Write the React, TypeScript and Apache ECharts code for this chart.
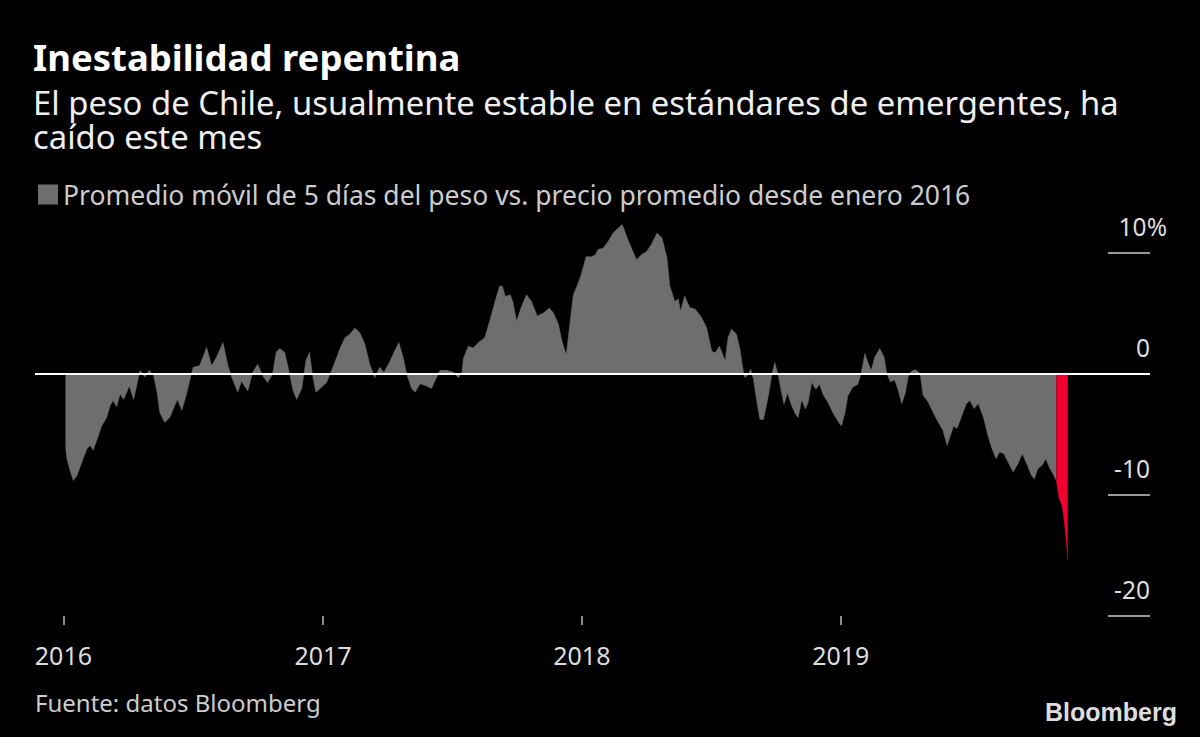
import React, { useEffect, useRef } from "react";
import * as echarts from "echarts";

const FONT = "'Noto Sans', sans-serif";

const legendName = "Promedio móvil de 5 días del peso vs. precio promedio desde enero 2016";

const dates2016 = ["2016-01-04","2016-01-06","2016-01-11","2016-01-15","2016-01-20","2016-01-27","2016-02-03","2016-02-08","2016-02-12","2016-02-17","2016-02-24","2016-03-02","2016-03-07","2016-03-11","2016-03-16","2016-03-21","2016-03-26","2016-04-03","2016-04-09","2016-04-14","2016-04-18","2016-04-25","2016-05-01","2016-05-07","2016-05-12","2016-05-16","2016-05-23","2016-05-30","2016-06-06","2016-06-10","2016-06-16","2016-06-22","2016-06-29","2016-07-02","2016-07-11","2016-07-21","2016-07-28","2016-08-04","2016-08-13","2016-08-20","2016-08-25","2016-09-03","2016-09-08","2016-09-17","2016-09-24","2016-10-01","2016-10-08","2016-10-15","2016-10-22","2016-10-27","2016-11-01","2016-11-08","2016-11-15","2016-11-20","2016-11-25","2016-12-02","2016-12-08","2016-12-13","2016-12-17","2016-12-22","2016-12-28"];
const values2016 = [-6.0,-7.0,-8.1,-8.8,-8.4,-7.3,-6.2,-5.9,-6.3,-5.5,-4.3,-3.6,-2.6,-2.2,-2.7,-1.65,-2.1,-1.0,-2.1,-0.8,0.3,-0.25,0.3,-0.1,-1.5,-3.2,-4.0,-3.6,-2.6,-2.1,-3.0,-1.8,-0.1,0.55,0.7,2.2,0.7,1.4,2.6,0.7,-0.2,-1.5,-0.6,-1.4,0.15,0.8,-0.15,-0.7,0,1.8,2.1,1.8,0,-1.4,-2.1,-1.2,1.1,1.8,0,-1.5,-1.2];

const dates2017 = ["2017-01-06","2017-01-16","2017-01-25","2017-02-01","2017-02-08","2017-02-15","2017-02-22","2017-03-01","2017-03-08","2017-03-15","2017-03-22","2017-03-28","2017-04-05","2017-04-12","2017-04-18","2017-04-24","2017-04-29","2017-05-06","2017-05-11","2017-05-18","2017-05-27","2017-06-03","2017-06-10","2017-06-15","2017-06-24","2017-07-04","2017-07-11","2017-07-16","2017-07-18","2017-07-25","2017-08-01","2017-08-08","2017-08-17","2017-08-24","2017-09-01","2017-09-07","2017-09-11","2017-09-15","2017-09-22","2017-09-26","2017-10-01","2017-10-08","2017-10-15","2017-10-22","2017-10-30","2017-11-08","2017-11-16","2017-11-22","2017-11-29","2017-12-04","2017-12-10","2017-12-15","2017-12-20","2017-12-25","2017-12-31"];
const values2017 = [-0.7,0.7,2.1,3.0,3.3,3.8,3.4,2.5,0.8,-0.3,0.55,0.15,1.0,1.9,2.6,1.4,0,-1.2,-1.5,-0.8,-1.0,-1.2,-0.3,0.3,0.3,0.15,-0.3,0.15,1.3,2.3,2.15,2.6,3.0,4.35,6.1,7.25,7.25,6.4,6.55,5.9,4.35,5.6,6.55,6.0,4.8,5.05,5.45,5.05,4.1,2.7,1.6,4.1,6.55,7.25,8.2];

const dates2018 = ["2018-01-07","2018-01-15","2018-01-20","2018-01-24","2018-01-31","2018-02-07","2018-02-14","2018-02-21","2018-02-27","2018-03-05","2018-03-12","2018-03-19","2018-03-26","2018-04-02","2018-04-09","2018-04-17","2018-04-24","2018-05-01","2018-05-05","2018-05-12","2018-05-17","2018-05-20","2018-05-26","2018-06-02","2018-06-10","2018-06-19","2018-06-26","2018-07-03","2018-07-08","2018-07-14","2018-07-22","2018-07-26","2018-07-31","2018-08-07","2018-08-12","2018-08-17","2018-08-19","2018-08-24","2018-08-27","2018-08-31","2018-09-05","2018-09-09","2018-09-14","2018-09-21","2018-09-26","2018-09-30","2018-10-05","2018-10-10","2018-10-13","2018-10-18","2018-10-23","2018-10-29","2018-11-02","2018-11-07","2018-11-12","2018-11-16","2018-11-21","2018-11-27","2018-12-02","2018-12-07","2018-12-14","2018-12-21","2018-12-28"];
const values2018 = [9.7,9.7,9.85,10.3,10.4,10.95,11.65,12.05,12.35,11.4,10.4,9.45,9.85,10.1,10.7,11.65,11.25,9.6,7.3,6.0,6.2,5.2,6.45,5.5,5.35,4.65,3.8,1.9,1.75,2.3,1.1,3.0,3.7,3.3,2.0,0.1,-0.3,0,0.4,-0.45,-2.4,-3.75,-3.75,-1.8,0,0.95,-0.15,-1.7,-2.5,-1.55,-2.5,-3.3,-3.6,-2.1,-2.9,-2.35,-0.7,-1.25,-0.85,-1.7,-2.35,-3.2,-3.9];

const dates2019 = ["2019-01-02","2019-01-07","2019-01-11","2019-01-18","2019-01-25","2019-01-30","2019-02-04","2019-02-08","2019-02-13","2019-02-18","2019-02-25","2019-03-03","2019-03-07","2019-03-12","2019-03-18","2019-03-23","2019-03-28","2019-04-02","2019-04-06","2019-04-11","2019-04-17","2019-04-23","2019-04-27","2019-05-04","2019-05-11","2019-05-18","2019-05-25","2019-05-31","2019-06-04","2019-06-09","2019-06-14","2019-06-21","2019-06-27","2019-07-02","2019-07-08","2019-07-14","2019-07-21","2019-07-28","2019-08-03","2019-08-08","2019-08-13","2019-08-19","2019-08-25","2019-09-01","2019-09-08","2019-09-14","2019-09-20","2019-09-27","2019-10-01","2019-10-06","2019-10-12","2019-10-17","2019-10-22","2019-10-27","2019-11-01"];
const values2019 = [-4.3,-3.2,-1.8,-1.1,-0.85,0.1,1.7,1.0,0.3,1.4,2.1,1.4,0,-0.65,-0.5,-1.35,-2.45,-1.6,-0.25,0.25,0.35,0,-1.75,-2.3,-3.15,-3.95,-4.65,-5.9,-5.2,-4.3,-4.5,-3.4,-2.45,-2.2,-2.85,-2.45,-3.55,-5.2,-6.3,-7.0,-6.45,-6.6,-7.3,-8.1,-7.4,-6.6,-7.4,-8.4,-8.65,-7.8,-7.55,-7.0,-7.7,-8.25,-8.8];

const datesRecent = ["2019-11-01","2019-11-05","2019-11-09","2019-11-12","2019-11-15","2019-11-17"];
const valuesRecent = [-8.8,-10.3,-10.85,-12.1,-13.75,-15.4];

const yearTicks = ["2016-01-01","2017-01-01","2018-01-01","2019-01-01"];

const toTs = (d: string) => {
  const [y, m, dd] = d.split("-").map(Number);
  return Date.UTC(y, m - 1, dd);
};

const zip = (ds: string[], vs: number[]) => ds.map((d, i) => [toTs(d), vs[i]]);

export default function App() {
  const ref = useRef<HTMLDivElement>(null);
  useEffect(() => {
    document.body.style.margin = "0";
    document.body.style.background = "#000";
    if (!ref.current) return;
    const chart = echarts.init(ref.current, null, { renderer: "svg" });
    const grayData = [
      ...zip(dates2016, values2016),
      ...zip(dates2017, values2017),
      ...zip(dates2018, values2018),
      ...zip(dates2019, values2019),
    ];
    const redData = zip(datesRecent, valuesRecent);
    const yearTs = yearTicks.map(toTs);
    chart.setOption({
      animation: false,
      backgroundColor: "#000000",
      textStyle: { fontFamily: FONT },
      title: {
        left: 33,
        top: 39,
        text: "Inestabilidad repentina",
        subtext: "El peso de Chile, usualmente estable en estándares de emergentes, ha\ncaído este mes",
        itemGap: 9,
        padding: 0,
        textStyle: { color: "#ffffff", fontSize: 36.5, lineHeight: 36, fontWeight: "bold", fontFamily: FONT },
        subtextStyle: { color: "#eeeeee", fontSize: 32.8, lineHeight: 34, fontFamily: FONT },
      },
      legend: {
        left: 38,
        top: 181,
        padding: 0,
        icon: "rect",
        itemWidth: 20,
        itemHeight: 20,
        data: [legendName],
        textStyle: { color: "#cccccc", fontSize: 26.5, fontFamily: FONT },
        selectedMode: false,
      },
      grid: { left: 35, right: 50, top: 253, bottom: 121, containLabel: false },
      xAxis: {
        type: "value",
        min: toTs("2015-11-22"),
        max: toTs("2020-03-12"),
        axisLine: { show: false, onZero: false },
        splitLine: { show: false },
        axisTick: {
          show: true,
          length: 9,
          lineStyle: { color: "#bbbbbb", width: 1.5 },
          customValues: yearTs,
        },
        axisLabel: {
          color: "#dddddd",
          fontSize: 25,
          fontFamily: FONT,
          margin: 26,
          customValues: yearTs,
          formatter: (v: number) => String(new Date(v).getUTCFullYear()),
        },
      },
      yAxis: {
        type: "value",
        position: "right",
        min: -20,
        max: 10,
        interval: 10,
        axisLine: { show: false },
        splitLine: { show: false },
        axisTick: { show: true, inside: true, length: 42, lineStyle: { color: "#cccccc", width: 1.5 } },
        axisLabel: {
          inside: true,
          margin: 0,
          color: "#dddddd",
          fontSize: 24.5,
          fontFamily: FONT,
          verticalAlign: "bottom",
          align: "right",
          padding: [0, 0, 14, 0],
          formatter: (v: number) => (v === 10 ? "{h|10%}" : String(v)),
          rich: { h: { padding: [0, -17, 0, 0], color: "#dddddd", fontSize: 24.5, fontFamily: FONT } },
        },
      },
      series: [
        {
          name: legendName,
          type: "line",
          data: grayData,
          symbol: "none",
          clip: false,
          lineStyle: { width: 0.5, color: "#6e6e6e" },
          itemStyle: { color: "#6e6e6e" },
          areaStyle: { color: "#6e6e6e", opacity: 1 },
          markLine: {
            silent: true,
            symbol: "none",
            label: { show: false },
            lineStyle: { color: "#ffffff", width: 2, type: "solid" },
            data: [{ yAxis: 0 }],
          },
          z: 2,
        },
        {
          name: "Reciente",
          type: "line",
          data: redData,
          symbol: "none",
          clip: false,
          lineStyle: { width: 0.5, color: "#f2002f" },
          itemStyle: { color: "#f2002f" },
          areaStyle: { color: "#f2002f", opacity: 1 },
          z: 3,
        },
      ],
      graphic: [
        {
          type: "text",
          left: 35,
          top: 690,
          style: { text: "Fuente: datos Bloomberg", fill: "#cccccc", font: `24px ${FONT}` },
        },
        {
          type: "text",
          left: 1045,
          top: 699,
          style: { text: "Bloomberg", fill: "#dddddd", font: `bold 25px 'Liberation Sans', Arial, sans-serif` },
        },
      ],
    });
    return () => chart.dispose();
  }, []);
  return <div ref={ref} style={{ width: 1200, height: 737 }} />;
}
